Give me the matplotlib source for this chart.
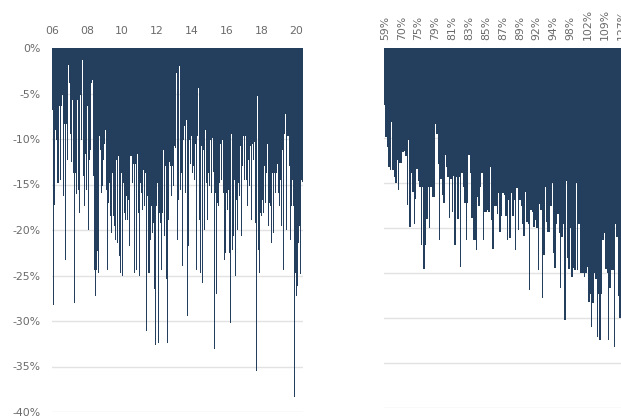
import numpy as np
import matplotlib
matplotlib.use('Agg')
import matplotlib.pyplot as plt

# left panel: drawdowns through time, 2006 -> mid 2020
left_vals = [
    -6.8, -28.2, -17.2, -16.7, -9.0, -10.1, -14.8, -14.8, -6.4, -14.5, -10.8, -6.4, -5.2, -16.3, -8.3, -23.3,
    -8.4, -12.3, -9.7, -1.9, -3.9, -9.4, -12.5, -5.7, -13.7, -24.0, -28.0, -13.7, -16.0, -5.7, -15.6, -18.1,
    -8.3, -5.2, -10.1, -1.3, -14.1, -17.4, -11.6, -15.6, -14.7, -6.4, -20.0, -12.3, -11.2, -3.9, -3.5, -0.2,
    -14.1, -24.4, -27.3, -24.4, -22.3, -24.7, -14.8, -9.7, -11.2, -15.9, -15.2, -12.3, -10.5, -22.2, -9.0, -15.6,
    -24.4, -17.0, -14.8, -18.5, -20.3, -13.7, -13.7, -18.5, -19.6, -21.1, -12.3, -21.4, -12.7, -11.9, -22.9, -24.7,
    -13.7, -25.1, -14.8, -18.5, -18.1, -18.9, -16.3, -18.9, -16.7, -21.8, -26.9, -11.9, -11.9, -14.8, -12.7, -24.7,
    -12.7, -24.4, -22.5, -11.7, -18.1, -25.1, -14.8, -15.9, -17.8, -25.4, -13.4, -17.4, -13.7, -31.1, -16.3, -24.7,
    -24.0, -24.7, -21.1, -17.4, -20.3, -19.2, -26.5, -32.6, -18.1, -17.4, -14.8, -32.4, -18.1, -19.2, -24.4, -30.4,
    -18.1, -11.2, -20.7, -13.0, -25.4, -32.4, -9.0, -18.9, -12.5, -13.0, -16.3, -13.0, -15.2, -18.5, -10.8, -11.0,
    -2.8, -21.1, -16.7, -2.0, -15.6, -17.8, -13.7, -24.0, -10.1, -8.6, -15.9, -7.9, -8.6, -29.5, -21.8, -10.1,
    -12.7, -9.7, -13.7, -10.1, -13.0, -14.5, -10.5, -24.4, -9.7, -4.4, -7.9, -18.9, -24.7, -10.8, -25.8, -11.2,
    -20.0, -9.0, -14.5, -14.8, -18.9, -13.7, -15.2, -10.1, -15.9, -13.0, -9.9, -13.6, -33.1, -15.9, -27.0, -17.0,
    -14.5, -17.4, -14.8, -10.5, -14.5,
    -10.1, -15.9, -23.3, -13.7, -22.5, -15.9, -17.8, -15.6, -22.5, -30.2, -17.4, -9.5, -22.2, -20.7, -14.5, -25.1,
    -16.7, -14.1, -20.0, -14.8, -16.3, -10.8, -20.7, -13.0, -22.7, -9.7, -14.5, -9.7, -14.5, -17.4, -12.3, -15.2,
    -11.2, -10.8, -18.9, -10.5, -12.3, -10.3, -19.2, -4.2, -35.5, -5.3, -22.2, -24.7, -18.1, -18.5, -20.7, -16.7,
    -18.1, -13.0, -17.0, -13.7, -10.5, -9.5, -19.6, -17.0, -17.4, -21.4, -13.7, -20.3, -13.7, -20.3, -15.9, -13.7,
    -12.7, -15.9, -17.4, -14.5, -15.6, -19.6, -11.2, -24.4, -9.5, -7.2, -20.0, -25.3, -9.7, -9.7, -13.0, -21.1,
    -17.4, -14.5, -17.4, -0.2, -38.4, -24.7, -27.3, -26.2, -21.4, -19.6, -21.8, -24.8, -14.5, -14.7,
]
left_start = 2006.0
left_end = 2020.38
left_years = [2006, 2008, 2010, 2012, 2014, 2016, 2018, 2020]
left_year_labels = ['06', '08', '10', '12', '14', '16', '18', '20']

# right panel: same drawdowns sorted by valuation
right_vals = [
    -6.3, -9.9, -11.0, -13.2, -13.6, -8.2, -13.6, -14.3, -15.0, -12.4, -15.8, -12.8, -12.8, -11.6, -11.4, -12.0,
    -17.4, -10.2, -19.9, -13.9, -16.0, -19.5, -16.8, -13.4, -14.8, -15.4, -21.9, -15.4, -24.5, -21.9, -19.0, -15.4,
    -20.0, -15.4, -16.5, -16.5, -8.4, -9.5, -12.9, -21.3, -14.5, -16.3, -17.2, -11.9, -13.2, -14.3, -18.9, -14.5,
    -18.2, -14.2, -21.9, -14.3, -19.0, -14.3, -24.3,
    -13.9, -15.4, -17.2, -21.3, -17.2, -11.9, -13.9, -18.9, -21.3, -21.3, -22.4, -16.5, -17.6, -15.4, -13.9, -21.3,
    -18.2, -18.2, -18.0, -18.2, -13.2, -19.1, -22.3, -17.6, -17.6, -18.4, -16.1, -20.4, -18.7, -16.1, -16.3, -18.7,
    -21.3, -16.9, -21.1, -16.1, -18.7, -16.9, -22.4, -15.6, -20.2, -16.9, -17.6, -19.6, -20.9, -16.0, -19.3, -19.5,
    -26.9, -18.0, -18.2, -19.9, -19.1, -20.0, -24.7, -17.3, -18.0,
    -27.8, -23.0, -15.4, -19.3, -20.4, -20.4, -17.6, -15.0, -22.8, -24.4, -19.5, -18.4, -20.6, -26.7, -21.0, -19.6,
    -30.2, -14.8, -23.3, -24.6, -20.0, -25.4, -24.4, -24.7, -15.0, -24.7, -19.5, -25.0, -25.0, -25.0, -25.4, -25.0,
    -24.3, -28.2, -27.3, -31.0, -28.3, -25.0, -25.7, -32.1, -27.3, -32.4, -27.3, -21.3, -20.6, -24.6, -25.0, -32.4,
    -26.7, -24.7, -24.7, -33.2, -19.5, -21.0, -27.6, -30.0, -29.0,
]
right_labels = ['59%', '70%', '75%', '79%', '81%', '83%', '85%', '87%', '89%', '92%',
                '94%', '98%', '102%', '109%', '127%']
label_every = 12

y_ticks = [0, -5, -10, -15, -20, -25, -30, -35, -40]

navy = '#243e5e'
grid_col = '#e2e2e2'
text_col = '#6a6a6a'

W, H = 621, 417
fig = plt.figure(figsize=(W / 100, H / 100), dpi=100)

ax1 = fig.add_axes([52 / W, 1 - 412 / H, (303 - 52) / W, (412 - 48) / H])
n = len(left_vals)
step = (left_end - left_start) / n
xs = left_start + np.arange(n) * step
ax1.bar(xs, left_vals, width=step, align='edge', color=navy, linewidth=0)
ax1.set_xlim(left_start, left_end)
ax1.set_ylim(-40, 0)
ax1.set_xticks(left_years)
ax1.set_xticklabels(left_year_labels)
ax1.set_yticks(y_ticks)
ax1.set_yticklabels(['%d%%' % v for v in y_ticks])
ax1.xaxis.tick_top()
ax1.tick_params(axis='x', length=0, pad=9, labelsize=7.8, colors=text_col)
ax1.tick_params(axis='y', length=0, pad=8, labelsize=7.8, colors=text_col)

ax2 = fig.add_axes([384 / W, 1 - 408 / H, (622 - 384) / W, (408 - 48) / H])
m = len(right_vals)
ax2.bar(np.arange(m), right_vals, width=1.0, color=navy, linewidth=0)
ax2.set_xlim(-0.5, m - 0.5)
ax2.set_ylim(-40, 0)
ax2.set_xticks(np.arange(0, m, label_every)[:len(right_labels)])
ax2.set_xticklabels(right_labels, rotation=90)
ax2.set_yticks(y_ticks)
ax2.set_yticklabels([])
ax2.xaxis.tick_top()
ax2.tick_params(axis='x', length=0, pad=6, labelsize=7.8, colors=text_col)
ax2.tick_params(axis='y', length=0)

for ax in (ax1, ax2):
    ax.set_axisbelow(True)
    ax.yaxis.grid(True, color=grid_col, linewidth=1.0)
    for s in ax.spines.values():
        s.set_visible(False)

fig.savefig('out.png', dpi=100)
